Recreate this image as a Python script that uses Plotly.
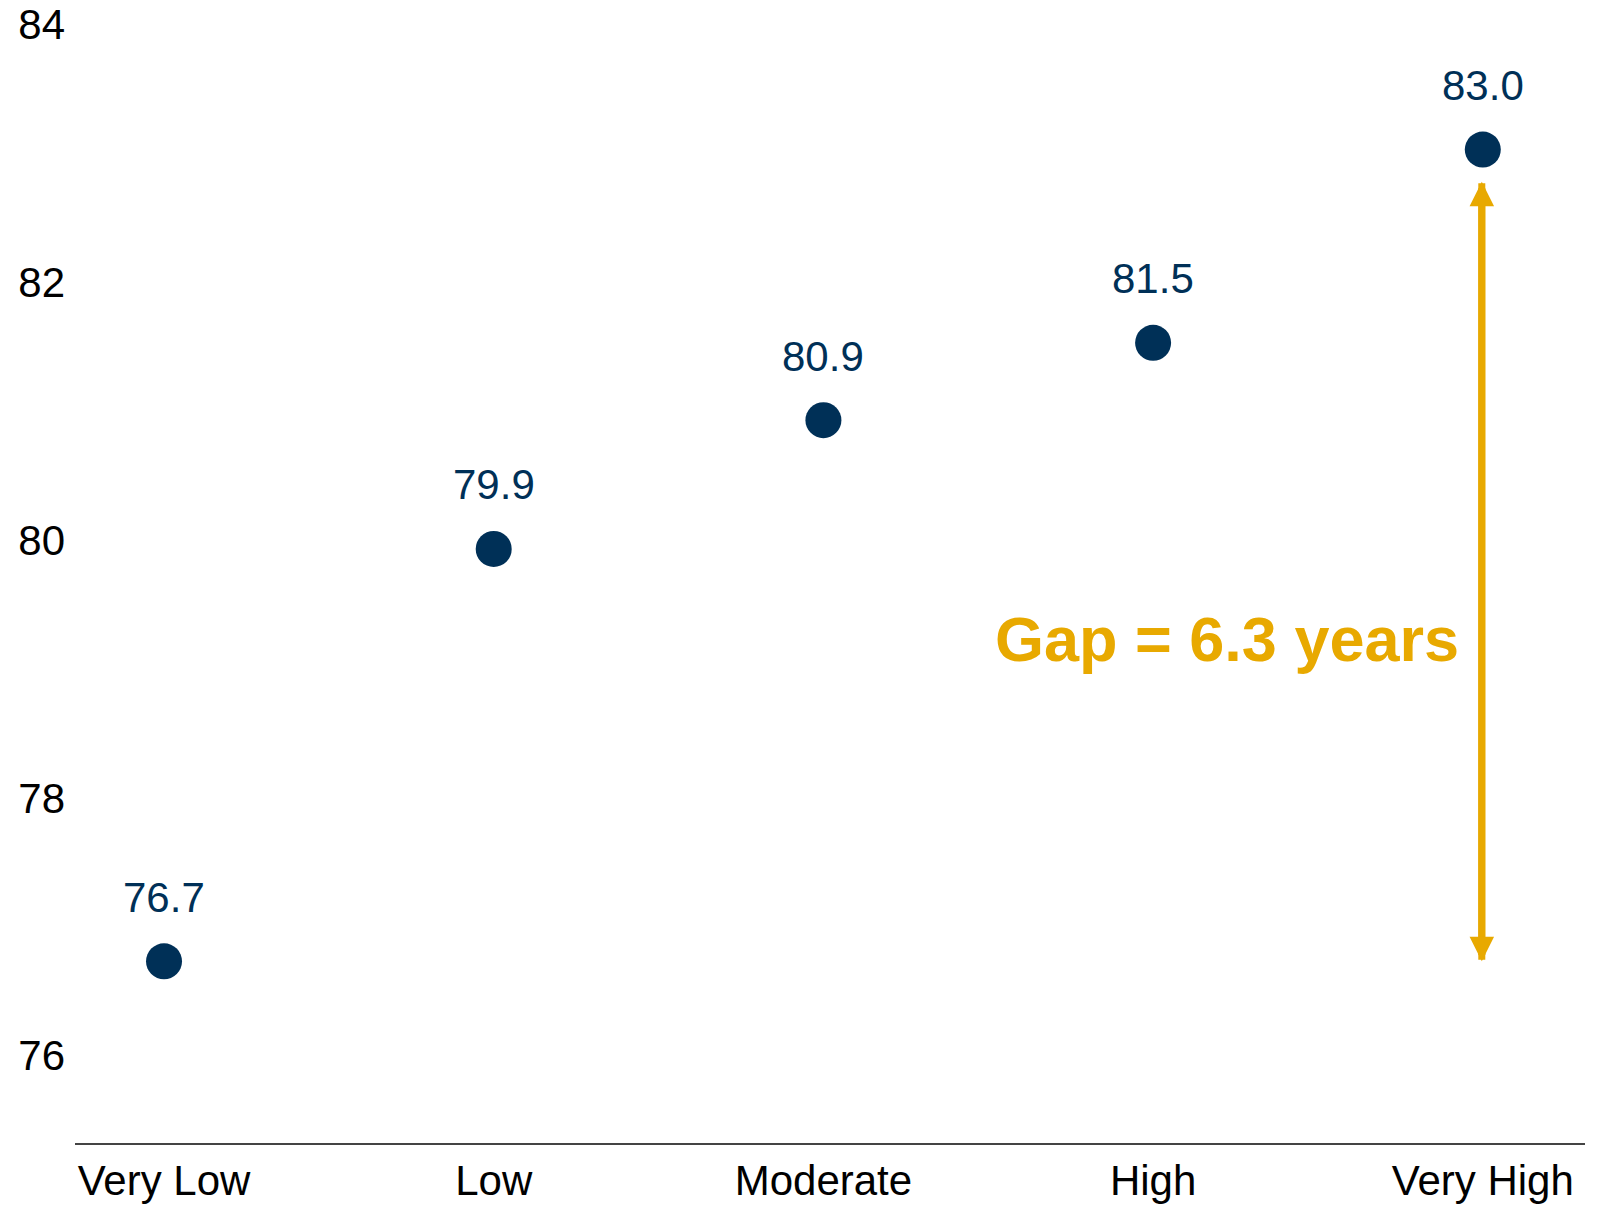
import plotly.graph_objects as go

categories = ["Very Low", "Low", "Moderate", "High", "Very High"]
values = [76.7, 79.9, 80.9, 81.5, 83.0]
value_labels = ["76.7", "79.9", "80.9", "81.5", "83.0"]
y_ticks = [76, 78, 80, 82, 84]
gap_low = 76.7
gap_high = 82.75
gap_text = "Gap = 6.3 years"

NAVY = "#003057"
GOLD = "#E8A900"
FONT = "Liberation Sans, Arial, sans-serif"

fig = go.Figure()
fig.add_trace(go.Scatter(
    x=categories, y=values, mode="markers",
    marker=dict(size=36, color=NAVY),
    hoverinfo="skip", showlegend=False,
))

annotations = []
for c, v, t in zip(categories, values, value_labels):
    annotations.append(dict(
        x=c, y=v, xref="x", yref="y", text=t, showarrow=False,
        yanchor="middle", xanchor="center", yshift=64,
        font=dict(family=FONT, size=42, color=NAVY),
    ))

# double-headed arrow
for y_tip, y_tail in [(gap_high, gap_low), (gap_low, gap_high)]:
    annotations.append(dict(
        x=categories[-1], y=y_tip, ax=categories[-1], ay=y_tail,
        xref="x", yref="y", axref="x", ayref="y",
        text="", showarrow=True, arrowhead=2, arrowsize=0.7,
        arrowwidth=7, arrowcolor=GOLD, xshift=-1,
        standoff=0, startstandoff=0,
    ))

annotations.append(dict(
    x=categories[-1], y=79.20, xref="x", yref="y", text="<b>" + gap_text + "</b>",
    showarrow=False, xanchor="right", yanchor="middle", xshift=-22,
    font=dict(family=FONT, size=63, color=GOLD),
))

fig.update_layout(
    width=1605, height=1205,
    margin=dict(l=75, r=20, t=6, b=62, autoexpand=False),
    paper_bgcolor="white", plot_bgcolor="white",
    font=dict(family=FONT, size=42, color="black"),
    annotations=annotations,
    xaxis=dict(
        type="category", range=[-0.27, 4.31], automargin=False,
        showline=True, linecolor="#444444", linewidth=2,
        showgrid=False, zeroline=False, ticks="",
        tickfont=dict(family=FONT, size=42, color="black"),
    ),
    yaxis=dict(
        range=[75.29, 84.114], tickvals=y_ticks, automargin=False,
        showline=False, showgrid=False, zeroline=False, ticks="",
        tickfont=dict(family=FONT, size=42, color="black"),
        ticklabelshift=4, ticklabelstandoff=9,
    ),
)

fig.write_html(
    "out.html",
    config={"displayModeBar": False},
    post_script="document.body.style.margin='0';document.body.style.overflow='hidden';",
)
